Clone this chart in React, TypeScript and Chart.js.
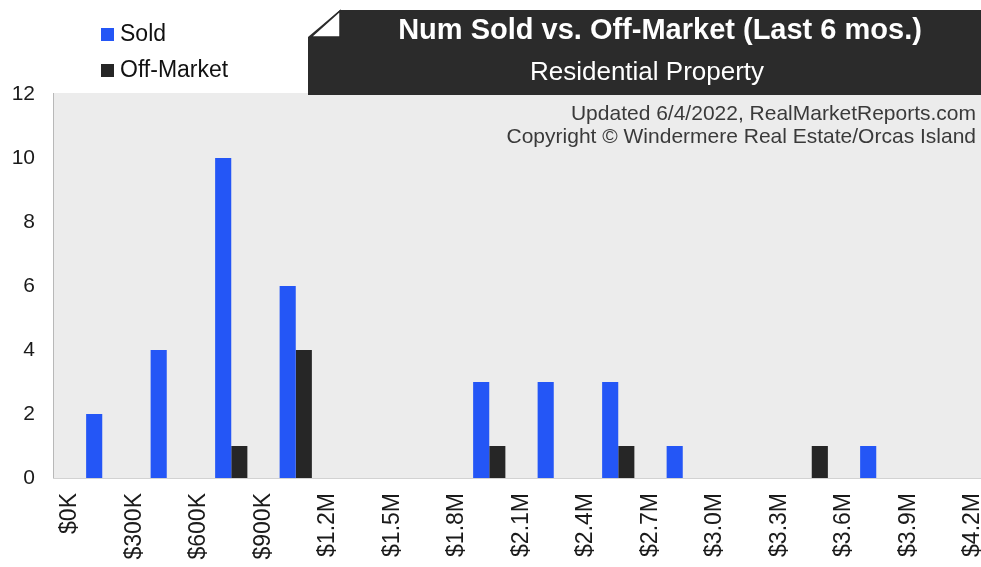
import React, { useEffect, useRef } from "react";
import { Chart, registerables } from "chart.js";

Chart.register(...registerables);

// ---- data ----
const priceBins = [
  "$0K-$300K", "$300K-$600K", "$600K-$900K", "$900K-$1.2M", "$1.2M-$1.5M",
  "$1.5M-$1.8M", "$1.8M-$2.1M", "$2.1M-$2.4M", "$2.4M-$2.7M", "$2.7M-$3.0M",
  "$3.0M-$3.3M", "$3.3M-$3.6M", "$3.6M-$3.9M", "$3.9M-$4.2M",
];
const priceTicks = [
  "$0K", "$300K", "$600K", "$900K", "$1.2M", "$1.5M", "$1.8M", "$2.1M",
  "$2.4M", "$2.7M", "$3.0M", "$3.3M", "$3.6M", "$3.9M", "$4.2M",
];
const soldCounts = [2, 4, 10, 6, 0, 0, 3, 3, 3, 1, 0, 0, 1, 0];
const offMarketCounts = [0, 0, 1, 4, 0, 0, 1, 0, 1, 0, 0, 1, 0, 0];
const seriesNames = ["Sold", "Off-Market"];
const titleText = "Num Sold vs. Off-Market (Last 6 mos.)";
const subtitleText = "Residential Property";
const noteLines = [
  "Updated 6/4/2022, RealMarketReports.com",
  "Copyright \u00A9 Windermere Real Estate/Orcas Island",
];

const FONT = "'Liberation Sans', Arial, Helvetica, sans-serif";
const SOLD_COLOR = "#2456f6";
const OFF_COLOR = "#262626";

const decorPlugin = {
  id: "decor",
  beforeDraw(chart: any) {
    const { ctx, chartArea, width } = chart;
    ctx.save();
    // plot background
    ctx.fillStyle = "#ececec";
    ctx.fillRect(chartArea.left - 17, chartArea.top - 1, width - (chartArea.left - 17), chartArea.bottom - chartArea.top + 1);
    // left line
    ctx.strokeStyle = "#b8b8b8";
    ctx.lineWidth = 1;
    ctx.beginPath();
    ctx.moveTo(chartArea.left - 16.5, chartArea.top - 1);
    ctx.lineTo(chartArea.left - 16.5, chartArea.bottom);
    ctx.stroke();
    // baseline
    ctx.strokeStyle = "#d2d2d2";
    ctx.beginPath();
    ctx.moveTo(chartArea.left - 17, chartArea.bottom + 0.5);
    ctx.lineTo(width, chartArea.bottom + 0.5);
    ctx.stroke();
    ctx.restore();
  },
  afterDraw(chart: any) {
    const { ctx, width } = chart;
    ctx.save();
    // title box with folded corner
    ctx.fillStyle = "#2b2b2b";
    ctx.beginPath();
    ctx.moveTo(340, 10);
    ctx.lineTo(width, 10);
    ctx.lineTo(width, 95);
    ctx.lineTo(308, 95);
    ctx.lineTo(308, 37);
    ctx.closePath();
    ctx.fill();
    ctx.fillStyle = "#ffffff";
    ctx.strokeStyle = "#2b2b2b";
    ctx.lineWidth = 1.5;
    ctx.beginPath();
    ctx.moveTo(311, 37);
    ctx.lineTo(340, 11);
    ctx.lineTo(340, 37);
    ctx.closePath();
    ctx.fill();
    ctx.stroke();

    ctx.fillStyle = "#ffffff";
    ctx.textAlign = "center";
    ctx.textBaseline = "alphabetic";
    ctx.font = `bold 29px ${FONT}`;
    ctx.fillText(titleText, 660, 39);
    ctx.font = `26px ${FONT}`;
    ctx.fillText(subtitleText, 647, 80);

    // notes
    ctx.fillStyle = "#3a3a3a";
    ctx.textAlign = "right";
    ctx.font = `21px ${FONT}`;
    ctx.fillText(noteLines[0], 976, 120);
    ctx.fillText(noteLines[1], 976, 143);

    // legend
    const ds = chart.data.datasets;
    ctx.textAlign = "left";
    ctx.textBaseline = "middle";
    ctx.font = `23px ${FONT}`;
    ds.forEach((d: any, i: number) => {
      const cy = 34 + i * 36;
      ctx.fillStyle = d.backgroundColor;
      ctx.fillRect(101, cy - 6, 13, 13);
      ctx.fillStyle = "#111111";
      ctx.fillText(d.label, 120, cy + 1);
    });
    ctx.restore();
  },
};

export default function App() {
  const ref = useRef<HTMLCanvasElement | null>(null);
  useEffect(() => {
    if (!ref.current) return;
    Chart.defaults.font.family = FONT;
    const chart = new Chart(ref.current, {
      type: "bar",
      data: {
        labels: priceBins,
        datasets: [
          {
            label: seriesNames[0],
            data: soldCounts,
            backgroundColor: SOLD_COLOR,
            borderWidth: 0,
            barPercentage: 1,
            categoryPercentage: 0.5,
          },
          {
            label: seriesNames[1],
            data: offMarketCounts,
            backgroundColor: OFF_COLOR,
            borderWidth: 0,
            barPercentage: 1,
            categoryPercentage: 0.5,
          },
        ],
      },
      options: {
        animation: false,
        responsive: false,
        devicePixelRatio: 1,
        layout: { padding: { top: 94, left: 0, right: 8, bottom: 0 } },
        plugins: { legend: { display: false }, tooltip: { enabled: false } },
        scales: {
          x: { type: "category", display: false, offset: true },
          x2: {
            type: "category",
            labels: priceTicks,
            position: "bottom",
            offset: false,
            grid: { display: false, drawTicks: false },
            border: { display: false },
            ticks: {
              autoSkip: false,
              minRotation: 90,
              maxRotation: 90,
              padding: 15,
              color: "#1a1a1a",
              font: { size: 23, family: FONT },
            },
            afterFit: (s: any) => {
              s.height = 89;
              s.paddingLeft = 0;
              s.paddingRight = 0;
            },
          },
          y: {
            min: 0,
            max: 12,
            grid: { display: false, drawTicks: false },
            border: { display: false },
            ticks: {
              stepSize: 2,
              padding: 35,
              color: "#1a1a1a",
              font: { size: 21, family: FONT },
            },
            afterFit: (s: any) => {
              s.width = 70;
            },
          },
        },
      },
      plugins: [decorPlugin],
    });
    return () => chart.destroy();
  }, []);
  return (
    <div style={{ position: "absolute", left: 0, top: 0, width: 981, height: 567, background: "#fff" }}>
      <canvas ref={ref} width={981} height={567} style={{ width: 981, height: 567, display: "block" }} />
    </div>
  );
}
